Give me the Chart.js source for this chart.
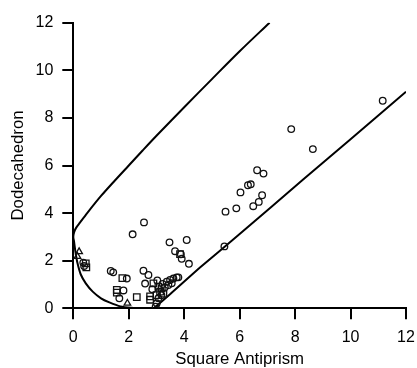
<!DOCTYPE html>
<html>
<head>
<meta charset="utf-8">
<script src="https://cdn.jsdelivr.net/npm/chart.js"></script>
<style>
  html, body { margin: 0; padding: 0; background: #fff; }
  canvas { display: block; }
</style>
</head>
<body>
<canvas id="chart" width="417" height="368"></canvas>
<script>
// open circles
const circleX = [11.16, 7.86, 8.64, 6.63, 6.86, 6.30, 6.40, 6.03, 6.81, 6.69, 6.49, 5.88, 5.49, 5.45,
  2.55, 2.14, 3.47, 4.09, 3.67, 3.88, 3.91, 4.17, 1.35, 1.44, 1.93, 1.81, 1.66, 2.53, 2.71, 2.59,
  3.03, 3.22, 3.37, 3.49, 3.61, 3.73, 3.43, 3.30, 3.07, 3.01, 2.97, 3.18, 0.36, 0.39, 2.85, 3.55, 3.79];
const circleY = [8.72, 7.53, 6.69, 5.80, 5.66, 5.17, 5.21, 4.87, 4.75, 4.47, 4.29, 4.20, 4.06, 2.60,
  3.61, 3.11, 2.77, 2.87, 2.40, 2.27, 2.08, 1.87, 1.57, 1.51, 1.25, 0.75, 0.42, 1.58, 1.40, 1.04,
  1.17, 1.02, 1.12, 1.19, 1.25, 1.30, 0.98, 0.88, 0.42, 0.21, 0.07, 0.55, 1.92, 1.78, 0.80, 1.05, 1.30];

// squares
const squareX = [0.45, 0.47, 1.77, 1.57, 1.57, 2.29, 2.77, 2.77, 2.89, 3.07, 3.13, 3.19, 3.85, 3.25, 3.00];
const squareY = [1.89, 1.72, 1.27, 0.77, 0.66, 0.47, 0.50, 0.36, 1.05, 0.91, 0.70, 0.84, 2.28, 0.62, 0.55];

// triangles
const triX = [0.21, 0.15, 1.95];
const triY = [2.38, 2.18, 0.21];

// boundary curve: upper branch then lower-left branch
const curveX = [7.08, 6.0, 5.0, 4.0, 3.0, 2.5, 2.0, 1.5, 1.0, 0.5, 0.24, 0.1, 0.03, 0.0,
  0.03, 0.08, 0.15, 0.27, 0.45, 0.7, 1.0, 1.3, 1.7, 2.1, 2.5, 2.9];
const curveY = [12.0, 10.8, 9.63, 8.45, 7.25, 6.63, 6.0, 5.37, 4.72, 4.0, 3.6, 3.38, 3.2, 3.0,
  2.78, 2.35, 1.9, 1.42, 1.05, 0.7, 0.42, 0.25, 0.08, 0.02, 0.0, 0.0];

// right-hand boundary
const lineX = [2.9, 3.5, 4.58, 6.0, 8.3, 10.0, 12.0];
const lineY = [0.0, 0.6, 1.72, 3.12, 5.42, 7.1, 9.1];

const xTitle = "Square Antiprism";
const yTitle = "Dodecahedron";

const toPoints = (xs, ys) => xs.map((x, i) => ({ x: x, y: ys[i] }));

const fontFamily = '"Liberation Sans", Arial, Helvetica, sans-serif';

const marker = (style, r) => ({
    showLine: false,
    pointStyle: style,
    pointRadius: r,
    pointBackgroundColor: "rgba(0,0,0,0)",
    pointBorderColor: "#111",
    pointBorderWidth: 1.3,
});

const ctx = document.getElementById("chart").getContext("2d");

new Chart(ctx, {
    type: "scatter",
    data: {
        datasets: [
            Object.assign({ data: toPoints(circleX, circleY) }, marker("circle", 3.3)),
            Object.assign({ data: toPoints(squareX, squareY) }, marker("rect", 4.6)),
            Object.assign({ data: toPoints(triX, triY) }, marker("triangle", 3.8)),
            {
                data: toPoints(curveX, curveY),
                showLine: true,
                pointRadius: 0,
                borderColor: "#000",
                borderWidth: 2,
                tension: 0.3,
            },
            {
                data: toPoints(lineX, lineY),
                showLine: true,
                pointRadius: 0,
                borderColor: "#000",
                borderWidth: 2,
                tension: 0.2,
            },
        ],
    },
    options: {
        responsive: false,
        animation: false,
        layout: { padding: { top: 22.7, right: 11, bottom: 0, left: 0 } },
        plugins: {
            legend: { display: false },
            tooltip: { enabled: false },
        },
        scales: {
            x: {
                type: "linear",
                min: 0,
                max: 12,
                ticks: { stepSize: 2, padding: 8.5, color: "#000", font: { family: fontFamily, size: 16 } },
                grid: { drawOnChartArea: false, drawTicks: true, tickLength: 11, color: "#000", lineWidth: 2 },
                border: { display: true, color: "#000", width: 2 },
                title: {
                    display: true,
                    text: xTitle,
                    color: "#000",
                    font: { family: fontFamily, size: 16.8, lineHeight: 1 },
                    padding: { top: 0, bottom: 0 },
                },
                afterFit: (scale) => {
                    scale.height = 59.7;
                    scale.paddingLeft = 0;
                    scale.paddingRight = 0;
                },
            },
            y: {
                type: "linear",
                min: 0,
                max: 12,
                ticks: { stepSize: 2, padding: 9, color: "#000", font: { family: fontFamily, size: 16 } },
                grid: { drawOnChartArea: false, drawTicks: true, tickLength: 11, color: "#000", lineWidth: 2 },
                border: { display: true, color: "#000", width: 2 },
                title: {
                    display: true,
                    text: yTitle,
                    color: "#000",
                    font: { family: fontFamily, size: 16.8, lineHeight: 1 },
                    padding: { top: 10, bottom: 0 },
                },
                afterFit: (scale) => {
                    scale.width = 73.3;
                    scale.paddingTop = 0;
                    scale.paddingBottom = 0;
                },
            },
        },
    },
});
</script>
</body>
</html>
